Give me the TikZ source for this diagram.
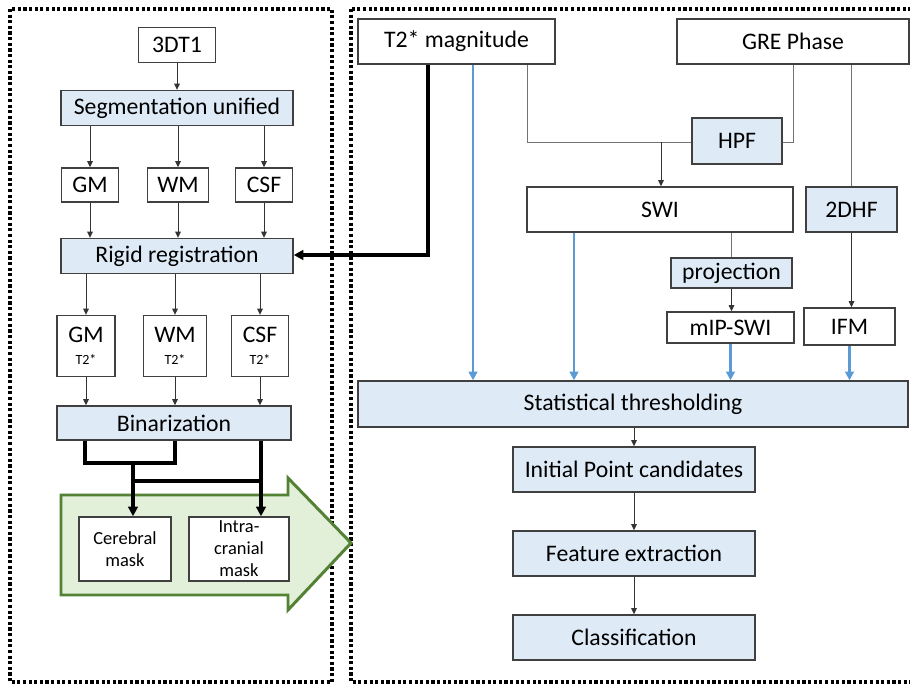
\documentclass[tikz,border=0pt]{standalone}
\usepackage{fontspec}
\setmainfont{Carlito}
\usetikzlibrary{arrows.meta,positioning}

\definecolor{boxblue}{HTML}{DEEBF7}
\definecolor{feedblue}{HTML}{5B9BD5}
\definecolor{bandfill}{HTML}{E2F0D9}
\definecolor{banddraw}{HTML}{548235}

\begin{document}
\begin{tikzpicture}[
    x=0.02cm, y=-0.02cm,
    dims/.style 2 args={minimum width=#1*0.02cm, minimum height=#2*0.02cm},
    plain/.style={rectangle, draw=black!75, line width=0.8pt, fill=white, inner sep=0pt,
                  align=center, font=\fontsize{13.5}{14.5}\selectfont},
    proc/.style={plain, fill=boxblue},
    link/.style={-{Triangle[length=3.5pt,width=3.2pt]}, draw=black!80, line width=0.45pt},
    wire/.style={draw=black!55, line width=0.45pt},
    heavy/.style={line width=1.8pt, line join=miter},
    heavyarrow/.style={heavy, -{Triangle[length=5.5pt,width=5.5pt]}},
    feed/.style={-{Triangle[length=5pt,width=5pt]}, draw=feedblue, line width=1.3pt},
    frame/.style={line width=1.8pt, dash pattern=on 1.8pt off 1.4pt},
    mask/.style={font=\fontsize{10.5}{12.5}\selectfont}
]
    \useasboundingbox (0,0) rectangle (910,685);

    % Frames
    \draw[frame] (10,9) rectangle (332,682);
    \draw[frame] (351,9) rectangle (914,682);

    % Green band
    \draw[line width=1.7pt, draw=banddraw, fill=bandfill, line join=miter]
        (61,495) -- (288,495) -- (288,478) -- (351,543) -- (288,610) -- (288,595) -- (61,595) -- cycle;

    % Left column
    \node[plain, dims={77}{35}] (t1) at (177,45) {3DT1};
    \node[proc, dims={232}{35}] (seg) at (177,108) {Segmentation unified};
    \node[plain, dims={57}{34}] (gm1) at (90,185) {GM};
    \node[plain, dims={61}{34}] (wm1) at (178,185) {WM};
    \node[plain, dims={57}{34}] (csf1) at (264,185) {CSF};
    \node[proc, dims={232}{35}] (reg) at (177,256) {Rigid registration};
    \node[plain, dims={58}{61}] (gm2) at (86,346) {GM\\[-2pt]{\fontsize{8}{9}\selectfont T2*}};
    \node[plain, dims={63}{61}] (wm2) at (175,346) {WM\\[-2pt]{\fontsize{8}{9}\selectfont T2*}};
    \node[plain, dims={57}{61}] (csf2) at (260,346) {CSF\\[-2pt]{\fontsize{8}{9}\selectfont T2*}};
    \node[proc, dims={234}{34}] (bin) at (174,423) {Binarization};
    \node[plain, dims={92}{64}, mask] (cer) at (125,549) {Cerebral\\mask};
    \node[plain, dims={100}{64}, mask] (icr) at (239,549) {Intra-\\cranial\\mask};

    % Right column
    \node[plain, dims={197}{45}] (mag) at (456.5,41.5) {T2* magnitude};
    \node[plain, dims={232}{45}] (gre) at (793,41.5) {GRE Phase};
    \node[proc, dims={90}{46}] (hpf) at (737,141) {HPF};
    \node[plain, dims={266}{45}] (swi) at (660,209.5) {SWI};
    \node[proc, dims={91}{45}] (dhf) at (851.5,209.5) {2DHF};
    \node[proc, dims={121}{30}] (proj) at (731.5,273) {projection};
    \node[plain, dims={127}{31}] (mip) at (730.5,327.5) {mIP-SWI};
    \node[plain, dims={91}{37}] (ifm) at (849.5,326.5) {IFM};
    \node[proc, dims={550}{46}] (stat) at (633,404) {Statistical thresholding};
    \node[proc, dims={242}{45}] (init) at (634,469.5) {Initial Point candidates};
    \node[proc, dims={242}{45}] (feat) at (634,553.5) {Feature extraction};
    \node[proc, dims={242}{45}] (cls) at (634,637.5) {Classification};

    % Junctions
    \coordinate (gmout) at (85,463);
    \coordinate (wmout) at (175,463);
    \coordinate (split) at (133,463);
    \coordinate (tee) at (133,481);
    \coordinate (csfout) at (261,481);
    \coordinate (bend) at (428,255);
    \coordinate (magfeed) at (473,64);
    \coordinate (magturn) at (527,142);
    \coordinate (swidrop) at (661,142);
    \coordinate (greturn) at (793,142);
    \coordinate (swifeed) at (574,232);

    % Left arrows
    \draw[link] (t1) -- (seg);
    \draw[link] (seg.south -| gm1) -- (gm1);
    \draw[link] (seg.south -| wm1) -- (wm1);
    \draw[link] (seg.south -| csf1) -- (csf1);
    \draw[link] (gm1) -- (gm1 |- reg.north);
    \draw[link] (wm1) -- (wm1 |- reg.north);
    \draw[link] (csf1) -- (csf1 |- reg.north);
    \draw[link] (reg.south -| gm2) -- (gm2);
    \draw[link] (reg.south -| wm2) -- (wm2);
    \draw[link] (reg.south -| csf2) -- (csf2);
    \draw[link] (gm2) -- (gm2 |- bin.north);
    \draw[link] (wm2) -- (wm2 |- bin.north);
    \draw[link] (csf2) -- (csf2 |- bin.north);

    \draw[heavy] (bin.south -| gmout) -- (gmout) -- (wmout) -- (bin.south -| wmout);
    \draw[heavyarrow] (split) -- (split |- cer.north);
    \draw[heavy] (tee) -- (csfout);
    \draw[heavyarrow] (bin.south -| csfout) -- (csfout |- icr.north);

    % Right arrows
    \draw[heavyarrow] (mag.south -| bend) -- (bend) -- (reg.east |- bend);
    \draw[feed] (mag.south -| magfeed) -- (magfeed |- stat.north);
    \draw[wire] (mag.south -| magturn) -- (magturn) -- (hpf.west |- magturn);
    \draw[wire] (gre.south -| greturn) -- (greturn) -- (hpf.east |- greturn);
    \draw[link] (swidrop) -- (swidrop |- swi.north);
    \draw[wire] (gre.south -| dhf) -- (dhf.north);
    \draw[wire] (swi.south -| proj) -- (proj);
    \draw[link] (proj) -- (proj |- mip.north);
    \draw[link] (dhf) -- (dhf |- ifm.north);
    \draw[feed] (swi.south -| swifeed) -- (swifeed |- stat.north);
    \draw[feed] (mip) -- (mip |- stat.north);
    \draw[feed] (ifm) -- (ifm |- stat.north);
    \draw[link] (stat.south -| init) -- (init);
    \draw[link] (init) -- (feat);
    \draw[link] (feat) -- (cls);
\end{tikzpicture}
\end{document}
